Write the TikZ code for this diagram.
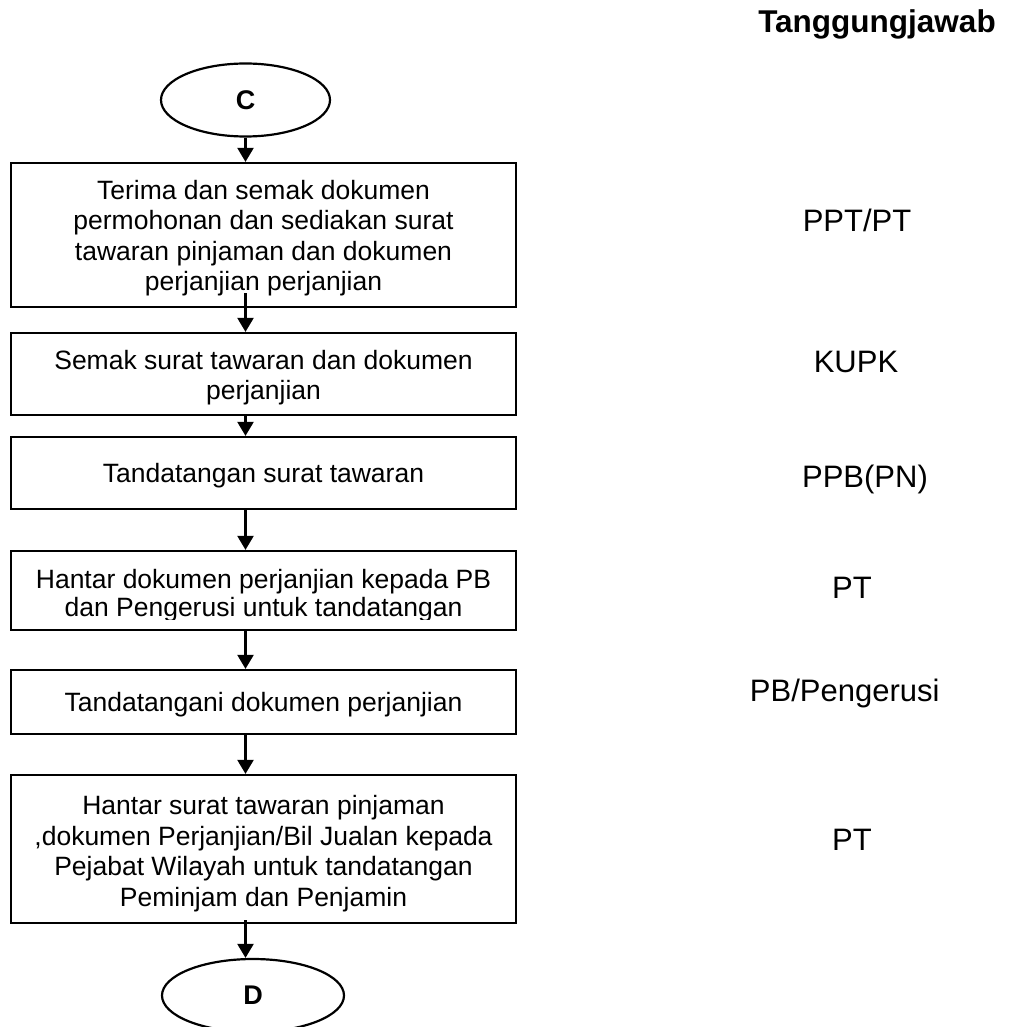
\documentclass[tikz,border=0pt]{standalone}
\usepackage{fontspec}
\setmainfont{Liberation Sans}
\usetikzlibrary{shapes.geometric,arrows.meta}
\begin{document}
\begin{tikzpicture}[x=1pt,y=-1pt,
  boxtext/.style={font=\fontsize{26.5}{30.5}\selectfont,align=center},
  stepbox/.style={draw,line width=2.2pt,minimum width=505pt,inner sep=0pt},
  term/.style={draw,ellipse,line width=2.2pt,inner sep=0pt,font=\fontsize{27}{30}\selectfont\bfseries},
  arr/.style={line width=2.2pt,-{Triangle[width=16pt,length=14pt]}},
  resp/.style={anchor=base,font=\fontsize{31}{36}\selectfont}]
\useasboundingbox (0,0) rectangle (1010,1027);

\node[resp,font=\fontsize{31.5}{36}\selectfont\bfseries] (hdr) at (877,33) {Tanggungjawab};

\node[term,minimum width=169pt,minimum height=73pt] (C) at (245.5,100) {C};

\node[stepbox,minimum height=144pt] (b1) at (263.5,235) {};
\node[boxtext,yshift=-3pt] (t1) at (b1) {Terima dan semak dokumen\\permohonan dan sediakan surat\\tawaran pinjaman dan dokumen\\perjanjian perjanjian};
\node[stepbox,minimum height=82pt] (b2) at (263.5,374) {};
\node[boxtext,yshift=-3.5pt] (t2) at (b2) {Semak surat tawaran dan dokumen\\perjanjian};
\node[stepbox,minimum height=72pt] (b3) at (263.5,473) {};
\node[boxtext,yshift=-3pt] (t3) at (b3) {Tandatangan surat tawaran};
\node[stepbox,minimum height=79pt] (b4) at (263.5,590.5) {};
\begin{scope}
  \clip (11,551) rectangle (516,619);
  \node[boxtext,anchor=base] (t4a) at (263.5,588) {Hantar dokumen perjanjian kepada PB};
  \node[boxtext,anchor=base] (t4b) at (263.5,616) {dan Pengerusi untuk tandatangan};
\end{scope}
\node[stepbox,minimum height=64pt] (b5) at (263.5,702) {};
\node[boxtext,yshift=-3pt] (t5) at (b5) {Tandatangani dokumen perjanjian};
\node[stepbox,minimum height=148pt] (b6) at (263.5,849) {};
\node[boxtext,yshift=-4.5pt] (t6) at (b6) {Hantar surat tawaran pinjaman\\,dokumen Perjanjian/Bil Jualan kepada\\Pejabat Wilayah untuk tandatangan\\Peminjam dan Penjamin};

\node[term,minimum width=182pt,minimum height=73pt] (D) at (253,995.5) {D};

\draw[arr] (C.south) -- (C.south |- b1.north);
\draw[arr] ([yshift=15pt]b1.south -| C.south) -- (b2.north -| C.south);
\draw[arr] (b2.south -| C.south) -- (b3.north -| C.south);
\draw[arr] (b3.south -| C.south) -- (b4.north -| C.south);
\draw[arr] (b4.south -| C.south) -- (b5.north -| C.south);
\draw[arr] (b5.south -| C.south) -- (b6.north -| C.south);
\draw[arr] ([yshift=4pt]b6.south -| C.south) -- (D.north -| C.south);

\node[resp] (r1) at (857,231) {PPT/PT};
\node[resp] (r2) at (856,372) {KUPK};
\node[resp] (r3) at (865,487) {PPB(PN)};
\node[resp] (r4) at (852,598) {PT};
\node[resp,anchor=base east] (r5) at (943,701) {PB/Pengerusi};
\node[resp] (r6) at (852,850) {PT};
\end{tikzpicture}
\end{document}
